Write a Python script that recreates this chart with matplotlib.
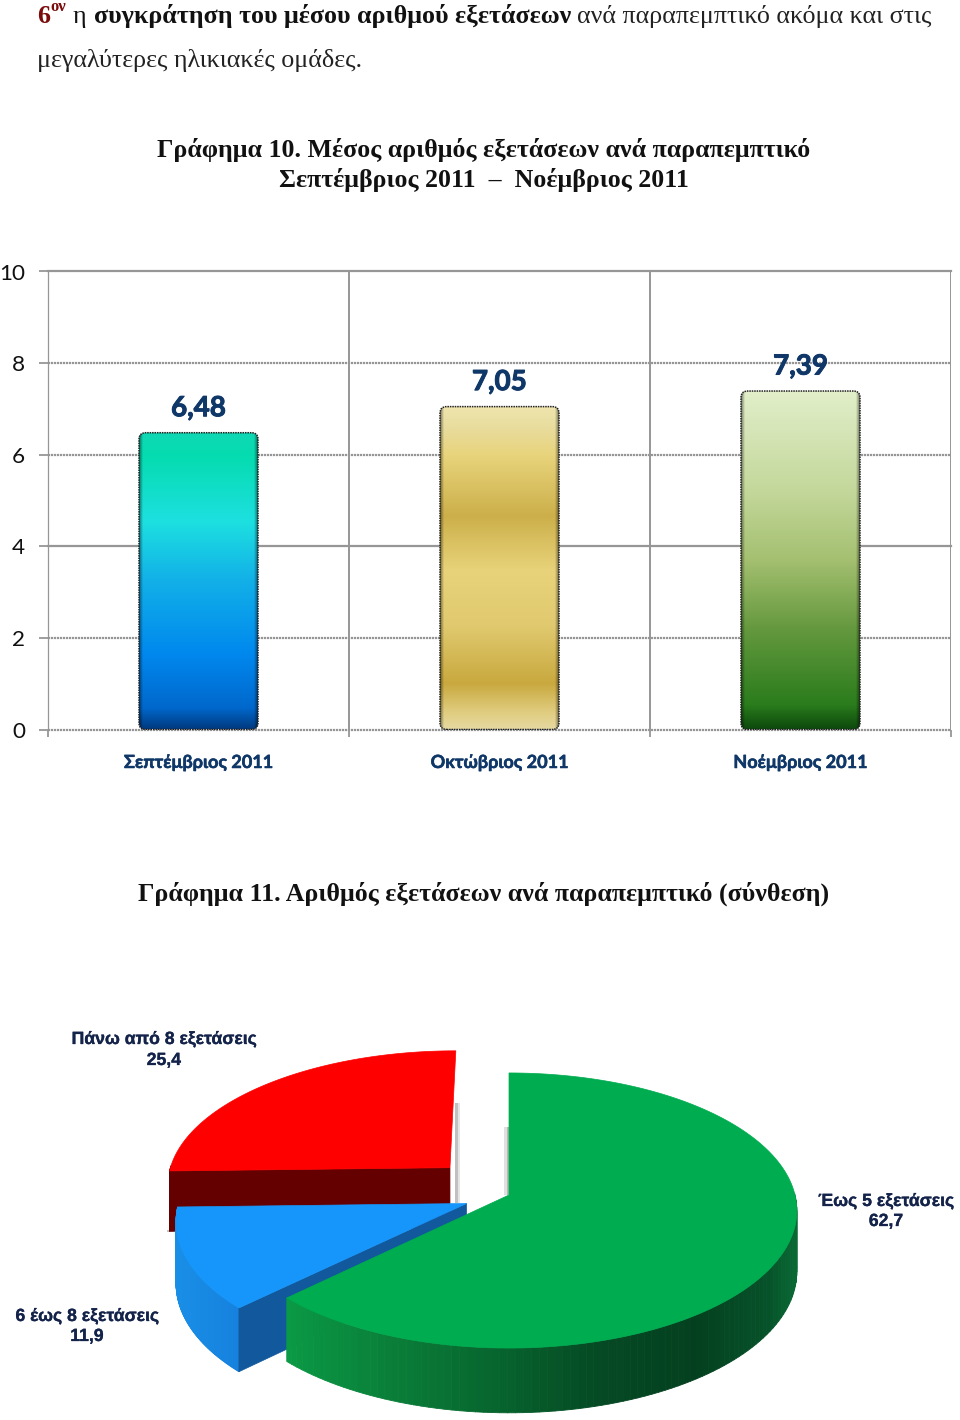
#!/usr/bin/env python3
# -*- coding: utf-8 -*-

import numpy as np
import matplotlib
matplotlib.use('Agg')
import matplotlib.pyplot as plt
import matplotlib.patheffects as pe
from matplotlib.collections import PolyCollection
from matplotlib.colors import to_rgb
from matplotlib.patches import FancyBboxPatch, Rectangle

# bar chart data
months = ['Σεπτέμβριος 2011', 'Οκτώβριος 2011', 'Νοέμβριος 2011']
mean_exams = [6.48, 7.05, 7.39]
mean_labels = ['6,48', '7,05', '7,39']
y_ticks = [0, 2, 4, 6, 8, 10]

# pie chart data
pie_names = ['Έως 5 εξετάσεις', '6 έως 8 εξετάσεις', 'Πάνω από 8 εξετάσεις']
pie_values = [62.7, 11.9, 25.4]
pie_labels = ['62,7', '11,9', '25,4']

W, H = 960, 1420
SERIF = 'Liberation Serif'
CALIBRI = ['Lato', 'Noto Sans']
NAVY = '#0f3768'
GRID = '#969696'

bar_stops = [
    [(0, '#0fd8b4'), (.08, '#05dcb0'), (.30, '#1de0e0'), (.5, '#12b0e8'),
     (.75, '#0088ee'), (.93, '#0068cc'), (1, '#003a80')],
    [(0, '#efe5ae'), (.07, '#e8dc9c'), (.15, '#e8d47c'), (.34, '#ccaf4a'),
     (.51, '#e8d37a'), (.68, '#e0c96f'), (.86, '#c9a93f'), (.95, '#e0cd80'), (1, '#e6d9a0')],
    [(0, '#e2efca'), (.3, '#c3d79a'), (.5, '#a4c070'), (.7, '#66993f'),
     (.93, '#2a7c1c'), (1, '#0d4a0d')],
]


def gradient_image(stops, rows=300, cols=120):
    """vertical colour ramp with darker sides"""
    pos = [s[0] for s in stops]
    rgb = np.array([to_rgb(s[1]) for s in stops])
    t = np.linspace(0, 1, rows)
    img = np.stack([np.interp(t, pos, rgb[:, i]) for i in range(3)], axis=1)
    img = np.repeat(img[:, None, :], cols, axis=1)
    side = np.minimum(np.linspace(0, 1, cols), np.linspace(1, 0, cols))
    shade = np.clip(side / 0.03, 0, 1) * 0.45 + 0.55
    return img * shade[None, :, None]


fig = plt.figure(figsize=(W / 100, H / 100), dpi=100, facecolor='white')

# --- bar chart ---
ax = fig.add_axes([48 / W, 1 - 729.5 / H, 903 / W, 458 / H])
ax.set_xlim(0, 3)
ax.set_ylim(0, 10)
ax.set_axisbelow(True)
for t in y_ticks:
    style = '-' if t in (4, 10) else (0, (1.0, 0.35))
    ax.axhline(t, color=GRID, lw=1.6, ls=style, zorder=1, clip_on=False)
for x in (1, 2, 3):
    ax.axvline(x, color=GRID, lw=1.4, zorder=1)
for s in ('top', 'right', 'bottom'):
    ax.spines[s].set_visible(False)
ax.spines['left'].set_color(GRID)
ax.spines['left'].set_linewidth(0.9)
ax.spines['left'].set_linestyle((0, (1, 1)))
ax.set_yticks(y_ticks)
ax.set_xticks([0, 1, 2, 3])
ax.set_xticklabels([])
ax.tick_params(axis='y', length=6.5, width=1.3, color=GRID, labelsize=16.2,
               labelcolor='#111111', pad=10)
ax.tick_params(axis='x', length=5, width=1.3, color=GRID)
for lab in ax.get_yticklabels():
    lab.set_family(CALIBRI)

bar_w = 119 / 301
corner = (1 / 301) / (10 / 458)
for i, v in enumerate(mean_exams):
    x0 = i + 0.5 - bar_w / 2
    box = FancyBboxPatch((x0, 0), bar_w, v,
                         boxstyle='round,pad=0,rounding_size=0.022',
                         mutation_aspect=1 / corner,
                         fc='none', ec='#222222', lw=1.1, ls=(0, (1, 0.6)), zorder=4)
    ax.add_patch(box)
    im = ax.imshow(gradient_image(bar_stops[i]), extent=(x0, x0 + bar_w, 0, v),
                   aspect='auto', zorder=3, interpolation='bilinear')
    im.set_clip_path(box)
    ax.text(i + 0.5, v + 0.36, mean_labels[i], ha='center', va='baseline',
            family=CALIBRI, fontsize=20, fontweight='bold', color=NAVY, zorder=5,
            path_effects=[pe.withStroke(linewidth=0.7, foreground=NAVY)])
    ax.text(i + 0.5, -0.84, months[i], ha='center', va='baseline',
            family=CALIBRI, fontsize=13, fontweight='bold', color=NAVY,
            path_effects=[pe.withStroke(linewidth=0.4, foreground=NAVY)])
ax.set_xlim(0, 3)
ax.set_ylim(0, 10)

# --- overlay in pixel coordinates: text and pie ---
ov = fig.add_axes([0, 0, 1, 1], facecolor='none')
ov.set_xlim(0, W)
ov.set_ylim(H, 0)
ov.axis('off')

BODY = 18.7
ov.text(37, 23, '6', family=SERIF, fontsize=BODY, fontweight='bold', color='#7a0c0c')
ov.text(50, 11, 'ον', family=SERIF, fontsize=12, fontweight='bold', color='#7a0c0c')
ov.text(73, 23, 'η', family=SERIF, fontsize=BODY, color='#111111')
ov.text(94, 23, 'συγκράτηση του μέσου αριθμού εξετάσεων', family=SERIF, fontsize=BODY,
        fontweight='bold', color='#111111')
ov.text(577, 23, 'ανά παραπεμπτικό ακόμα και στις', family=SERIF, fontsize=BODY, color='#222222')
ov.text(37, 67, 'μεγαλύτερες ηλικιακές ομάδες.', family=SERIF, fontsize=BODY, color='#222222')

for txt, y in [('Γράφημα 10. Μέσος αριθμός εξετάσεων ανά παραπεμπτικό', 157),
               ('Σεπτέμβριος 2011  –  Νοέμβριος 2011', 187),
               ('Γράφημα 11. Αριθμός εξετάσεων ανά παραπεμπτικό (σύνθεση)', 901)]:
    ov.text(484, y, txt, ha='center', family=SERIF, fontsize=18.65,
            fontweight='bold', color='#111111')

# perspective view of the disc, u to the right and v toward the viewer
CX, CY, RX, RY, K, DEPTH = 509, 1195, 286, 135.8, 0.1127, 61


def project(u, v, drop=0.0):
    s = 1 / (1 - K * v)
    return CX + RX * u * s, CY + RY * v * s + DEPTH * np.sqrt(s) * drop


def arc(t1, t2, off, n=160):
    t = np.radians(np.linspace(t1, t2, n))
    return np.sin(t) + off[0], -np.cos(t) + off[1]


def ramp(xs, stops):
    pos = [s[0] for s in stops]
    rgb = np.array([to_rgb(s[1]) for s in stops])
    return np.stack([np.interp(xs, pos, rgb[:, i]) for i in range(3)], axis=1)


def draw_wedge(t1, t2, explode, top, rim_stops, cut=None, cut_angle=None):
    mid = np.radians((t1 + t2) / 2)
    off = (explode * np.sin(mid), -explode * np.cos(mid))
    u, v = arc(t1, t2, off)
    # outer rim, only the part that faces the viewer
    x_a, y_a = project(u, v)
    x_b, y_b = project(u, v, 1)
    front = np.cos(np.radians(np.linspace(t1, t2, len(u)))) < 0.02
    quads, xs = [], []
    for j in range(len(u) - 1):
        if front[j] and front[j + 1]:
            quads.append([(x_a[j], y_a[j]), (x_a[j + 1], y_a[j + 1]),
                          (x_b[j + 1], y_b[j + 1]), (x_b[j], y_b[j])])
            xs.append(x_a[j])
    if quads:
        ov.add_collection(PolyCollection(quads, facecolors=ramp(xs, rim_stops),
                                         edgecolors='face', linewidths=0.6))
    # cut face
    if cut is not None:
        t = np.radians(cut_angle)
        edge_u = np.array([off[0], off[0] + np.sin(t)])
        edge_v = np.array([off[1], off[1] - np.cos(t)])
        xa, ya = project(edge_u, edge_v)
        xb, yb = project(edge_u, edge_v, 1)
        ov.fill([xa[0], xa[1], xb[1], xb[0]], [ya[0], ya[1], yb[1], yb[0]],
                color=cut, lw=0.5)
    # top face
    ax_, ay_ = project(off[0], off[1])
    ov.fill(np.r_[ax_, x_a], np.r_[ay_, y_a], color=top, lw=0.5)


angles = np.cumsum([0] + [v / sum(pie_values) * 360 for v in pie_values])

# soft shadows behind the slices
ov.add_patch(Rectangle((455, 1103), 2.5, 100, fc='#c0c0c0', ec='none'))
ov.add_patch(Rectangle((457.5, 1103), 2.5, 100, fc='#e6e6e6', ec='none'))
ov.add_patch(Rectangle((506.5, 1127), 2.5, 68, fc='#b8b8b8', ec='none'))
ov.add_patch(Rectangle((504, 1127), 2.5, 68, fc='#e0e0e0', ec='none'))
ov.add_patch(Rectangle((167, 1230), 7, 2, fc='#c4c4c4', ec='none'))

draw_wedge(angles[2], angles[3], 0.295, '#ff0000', [(0, '#640000'), (960, '#640000')],
           cut='#640000', cut_angle=angles[2])
draw_wedge(angles[1], angles[2], 0.16, '#1696fa', [(170, '#1a90e8'), (245, '#1580dd')],
           cut='#11589c', cut_angle=angles[1])
draw_wedge(angles[0], angles[1], 0.0, '#00ac50',
           [(288, '#0a9a45'), (400, '#0a7d38'), (480, '#076a30'), (600, '#054a24'),
            (700, '#04401f'), (770, '#06532a'), (797, '#0a6a34')])

label_pos = [(886, 1206, 1226), (87, 1321, 1341), (164, 1044, 1065)]
stroke = [pe.withStroke(linewidth=0.2, foreground='#14234a')]
for name, val, (x, y1, y2) in zip(pie_names, pie_labels, label_pos):
    ov.text(x, y1, name, ha='center', family='Liberation Sans', fontsize=12.7,
            fontweight='bold', color='#14234a', path_effects=stroke)
    ov.text(x, y2, val, ha='center', family='Liberation Sans', fontsize=12.7,
            fontweight='bold', color='#14234a', path_effects=stroke)

fig.savefig('out.png', dpi=100, facecolor='white')
